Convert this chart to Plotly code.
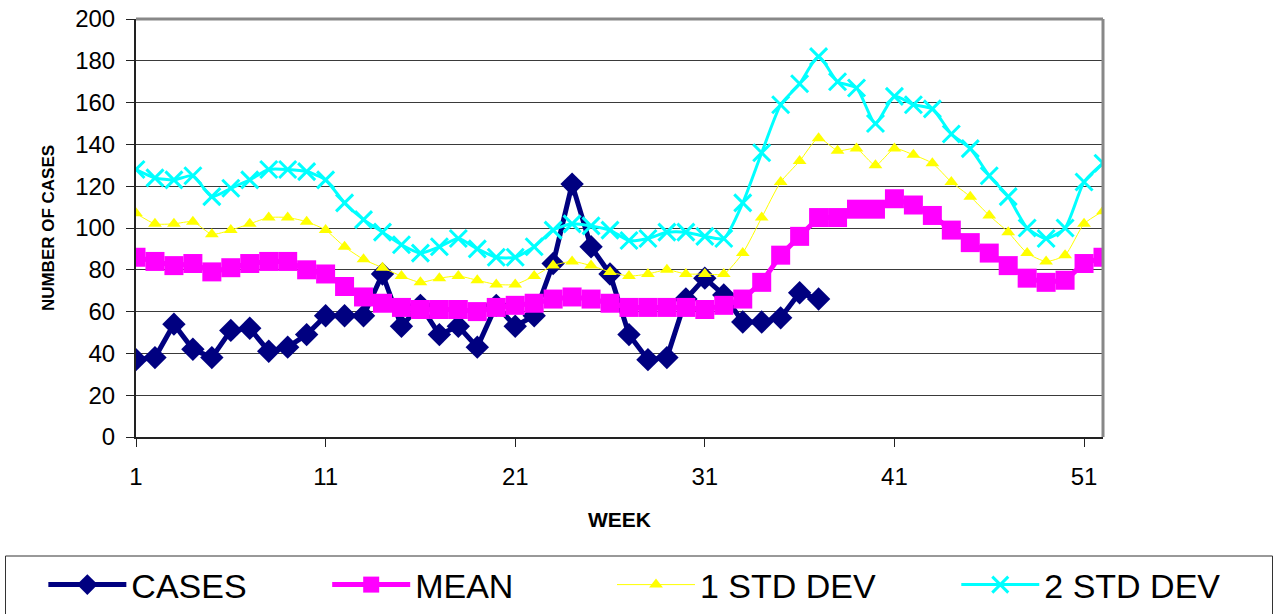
import plotly.graph_objects as go

weeks = list(range(1, 53))
cases = [37, 38, 54, 42, 38, 51, 52, 41, 43, 49,
         58, 58, 58, 78, 53, 63, 49, 53, 43, 63,
         53, 58, 83, 121, 91, 78, 49, 37, 38, 66,
         76, 68, 55, 55, 57, 69, 66]
mean = [86, 84, 82, 83, 79, 81, 83, 84, 84, 80,
        78, 72, 67, 64, 62, 61, 61, 61, 60, 62,
        63, 64, 66, 67, 66, 64, 62, 62, 62, 62,
        61, 63, 66, 74, 87, 96, 105, 105, 109, 109,
        114, 111, 106, 99, 93, 88, 82, 76, 74, 75,
        83, 86]
std1 = [107, 102, 102, 103, 97, 99, 102, 105, 105, 103,
        99, 91, 85, 81, 77, 74, 76, 77, 75, 73,
        73, 77, 82, 84, 82, 79, 77, 78, 80, 78,
        78, 78, 88, 105, 122, 132, 143, 137, 138, 130,
        138, 135, 131, 122, 115, 106, 98, 88, 84, 87,
        102, 108]
std2 = [128, 124, 123, 125, 115, 119, 123, 128, 128, 127,
        123, 112, 104, 98, 92, 88, 91, 95, 90, 86,
        86, 91, 99, 102, 101, 99, 94, 95, 98, 98,
        96, 95, 112, 136, 159, 169, 182, 170, 167, 150,
        163, 159, 157, 145, 138, 125, 115, 100, 95, 100,
        122, 131]
x_ticks = [1, 11, 21, 31, 41, 51]
names = ["CASES", "MEAN", "1 STD DEV", "2 STD DEV"]

FONT = "Liberation Sans, Arial, sans-serif"
pad = "\u00a0" * 8

fig = go.Figure()
fig.add_trace(go.Scatter(
    x=weeks[:len(cases)], y=cases, name=names[0] + pad, mode="lines+markers",
    line=dict(color="#000080", width=5),
    marker=dict(symbol="diamond", size=18, color="#000080"),
    legend="legend"))
fig.add_trace(go.Scatter(
    x=weeks, y=mean, name=names[1], mode="lines+markers",
    line=dict(color="#FF00FF", width=5),
    marker=dict(symbol="square", size=19, color="#FF00FF"),
    legend="legend"))
fig.add_trace(go.Scatter(
    x=weeks, y=std1, name=names[2] + pad, mode="lines+markers",
    line=dict(color="#FFFF00", width=1, shape="spline", smoothing=0.6),
    marker=dict(symbol="triangle-up", size=12, color="#FFFF00"),
    legend="legend2"))
fig.add_trace(go.Scatter(
    x=weeks, y=std2, name=names[3], mode="lines+markers",
    line=dict(color="#00FFFF", width=3, shape="spline", smoothing=0.6),
    marker=dict(symbol="x-thin", size=17, color="#00FFFF",
                line=dict(color="#00FFFF", width=3)),
    legend="legend2"))

# plot area in pixels: left 136, right 1103, top 19, bottom 437
PW, PH = 967.0, 418.0
def px_x(p):
    return (p - 136) / PW
def px_y(p):
    return (437 - p) / PH

legend_common = dict(
    orientation="h", yanchor="top", y=px_y(556),
    font=dict(size=34, family=FONT),
    borderwidth=0, bgcolor="rgba(0,0,0,0)",
    itemwidth=78,
)

fig.update_layout(
    width=1275, height=614,
    margin=dict(l=136, r=172, t=19, b=177, autoexpand=False),
    paper_bgcolor="white", plot_bgcolor="white",
    font=dict(family=FONT, color="black"),
    showlegend=True,
    legend=dict(x=px_x(5), xanchor="left",
                title=dict(text="\u00a0\u00a0\u00a0", side="left", font=dict(size=34)),
                **legend_common),
    legend2=dict(x=px_x(612), xanchor="left", **legend_common),
    shapes=[
        dict(type="line", xref="paper", yref="paper", x0=0, x1=1, y0=1, y1=1,
             line=dict(color="#888888", width=3), layer="above"),
        dict(type="line", xref="paper", yref="paper", x0=1, x1=1, y0=0, y1=1,
             line=dict(color="#888888", width=3), layer="above"),
        # legend frame
        dict(type="rect", xref="paper", yref="paper",
             x0=px_x(5.5), x1=px_x(1272.5), y0=px_y(556), y1=px_y(640),
             line=dict(color="#333333", width=1), fillcolor="rgba(0,0,0,0)",
             layer="below"),
    ],
)

fig.update_xaxes(
    range=[1, 52], tickvals=x_ticks, ticktext=[str(v) for v in x_ticks],
    showgrid=False, zeroline=False,
    showline=True, linecolor="#222222", linewidth=2,
    ticks="outside", ticklen=8, tickcolor="#222222", tickwidth=1,
    ticklabelstandoff=9,
    tickfont=dict(size=24, family=FONT),
    title=dict(text="<b>WEEK</b>", font=dict(size=21, family=FONT), standoff=24),
)
fig.update_yaxes(
    range=[0, 200], dtick=20,
    showgrid=True, gridcolor="#3a3a3a", gridwidth=1, zeroline=False,
    showline=True, linecolor="#222222", linewidth=2,
    ticks="outside", ticklen=8, tickcolor="#222222", tickwidth=1,
    ticklabelstandoff=6,
    tickfont=dict(size=24, family=FONT),
    title=dict(text="<b>NUMBER OF CASES</b>", font=dict(size=17, family=FONT), standoff=16),
)

fig.write_html("out.html", config={"displayModeBar": False},
               post_script="document.body.style.margin='0';")
